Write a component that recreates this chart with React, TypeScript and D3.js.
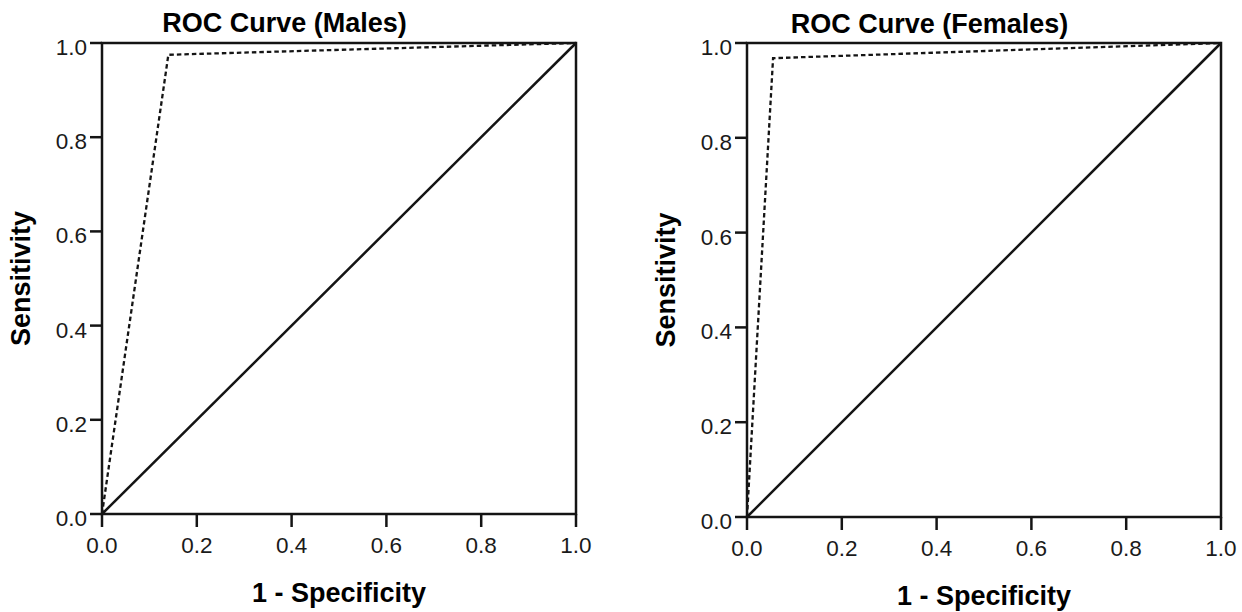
import React from "react";
import * as d3 from "d3";

// ---- Data ----
const tickValues = [0, 0.2, 0.4, 0.6, 0.8, 1.0];
const tickLabels = ["0.0", "0.2", "0.4", "0.6", "0.8", "1.0"];
const titles = ["ROC Curve (Males)", "ROC Curve (Females)"];
const xAxisTitle = "1 - Specificity";
const yAxisTitle = "Sensitivity";
// [1 - specificity, sensitivity]
const malesRoc: [number, number][] = [
  [0, 0],
  [0.14, 0.975],
  [1, 1],
];
const femalesRoc: [number, number][] = [
  [0, 0],
  [0.055, 0.968],
  [1, 1],
];
const referenceLine: [number, number][] = [
  [0, 0],
  [1, 1],
];
const curves = [malesRoc, femalesRoc];

// ---- Layout ----
const panels = [
  { left: 102, right: 576, top: 43, bottom: 514, titleX: 284.5, titleY: 31.5 },
  { left: 747, right: 1221, top: 43, bottom: 517, titleX: 929.5, titleY: 33 },
];

const FONT = "'Liberation Sans', Arial, sans-serif";
const INK = "#141414";

function Panel({ idx }: { idx: number }) {
  const p = panels[idx];
  const x = d3.scaleLinear().domain([0, 1]).range([p.left, p.right]);
  const y = d3.scaleLinear().domain([0, 1]).range([p.bottom, p.top]);
  const line = d3
    .line<[number, number]>()
    .x((d) => x(d[0]))
    .y((d) => y(d[1]));
  const cx = (p.left + p.right) / 2;
  const cy = (p.top + p.bottom) / 2;
  return (
    <g>
      <text
        x={p.titleX}
        y={p.titleY}
        textAnchor="middle"
        fontFamily={FONT}
        fontWeight="bold"
        fontSize={27}
        fill="#000"
      >
        {titles[idx]}
      </text>
      {/* curves */}
      <path d={line(referenceLine) || ""} fill="none" stroke={INK} strokeWidth={2.5} />
      <path
        d={line(curves[idx]) || ""}
        fill="none"
        stroke={INK}
        strokeWidth={2.3}
        strokeDasharray="4.5,3"
      />
      {/* frame */}
      <rect
        x={p.left}
        y={p.top}
        width={p.right - p.left}
        height={p.bottom - p.top}
        fill="none"
        stroke={INK}
        strokeWidth={2.5}
      />
      {/* x ticks */}
      {tickValues.map((v, i) => (
        <g key={"x" + i}>
          <line x1={x(v)} x2={x(v)} y1={p.bottom} y2={p.bottom + 13} stroke={INK} strokeWidth={2.5} />
          <text
            x={x(v)}
            y={p.bottom + 39}
            textAnchor="middle"
            fontFamily={FONT}
            fontSize={22.5}
            fill="#1a1a1a"
          >
            {tickLabels[i]}
          </text>
        </g>
      ))}
      {/* y ticks */}
      {tickValues.map((v, i) => (
        <g key={"y" + i}>
          <line x1={p.left - 12} x2={p.left} y1={y(v)} y2={y(v)} stroke={INK} strokeWidth={2.5} />
          <text
            x={p.left - 15}
            y={y(v) + 12}
            textAnchor="end"
            fontFamily={FONT}
            fontSize={22.5}
            fill="#1a1a1a"
          >
            {tickLabels[i]}
          </text>
        </g>
      ))}
      <text
        x={cx}
        y={p.bottom + 88}
        textAnchor="middle"
        fontFamily={FONT}
        fontWeight="bold"
        fontSize={27}
        fill="#000"
      >
        {xAxisTitle}
      </text>
      <text
        transform={`translate(${p.left - 72},${cy}) rotate(-90)`}
        textAnchor="middle"
        fontFamily={FONT}
        fontWeight="bold"
        fontSize={27}
        fill="#000"
      >
        {yAxisTitle}
      </text>
    </g>
  );
}

export default function App() {
  return (
    <div style={{ position: "absolute", left: 0, top: 0 }}>
      <svg width={1242} height={612} style={{ display: "block", background: "#fff" }}>
        <rect width={1242} height={612} fill="#fff" />
        <Panel idx={0} />
        <Panel idx={1} />
      </svg>
    </div>
  );
}
